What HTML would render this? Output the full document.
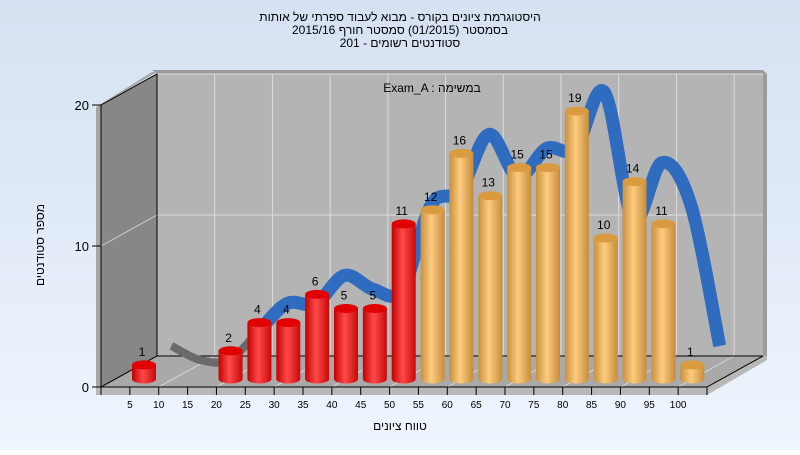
<!DOCTYPE html>
<html><head><meta charset="utf-8">
<style>
html,body{margin:0;padding:0}
body{width:800px;height:450px;overflow:hidden;font-family:"Liberation Sans","DejaVu Sans",sans-serif}
svg text{font-family:"Liberation Sans","DejaVu Sans",sans-serif}
</style></head>
<body>
<svg id="chart" width="800" height="450" viewBox="0 0 800 450" xmlns="http://www.w3.org/2000/svg">
<defs>
<linearGradient id="bg" x1="0" y1="0" x2="0" y2="1"><stop offset="0" stop-color="#d5e1f2"/><stop offset="1" stop-color="#eef5fd"/></linearGradient>
<linearGradient id="red" x1="0" y1="0" x2="1" y2="0"><stop offset="0" stop-color="#c40000"/><stop offset="0.45" stop-color="#ff4a4a"/><stop offset="1" stop-color="#c80808"/></linearGradient>
<linearGradient id="org" x1="0" y1="0" x2="1" y2="0"><stop offset="0" stop-color="#c9903e"/><stop offset="0.45" stop-color="#fdcc80"/><stop offset="1" stop-color="#c68c3a"/></linearGradient>
</defs>
<rect x="0" y="0" width="800" height="450" fill="url(#bg)"/>
<g font-size="12" fill="#000" text-anchor="middle">
<text x="400" y="21">היסטוגרמת ציונים בקורס - מבוא לעבוד ספרתי של אותות</text>
<text x="400" y="34">בסמסטר  (01/2015)  סמסטר חורף 2015/16</text>
<text x="400" y="47">סטודנטים רשומים - 201</text>
</g>
<!-- walls -->
<polygon points="96,107 152,72 157,72 101,105 101,392 96,392" fill="#a6a6a6"/>
<polygon points="152,70 763,70 767,74 767,356 763,356 763,74 157,74" fill="#9c9c9c"/>
<polygon points="101,105 157,74 157,356 101,387" fill="#878787" stroke="#000" stroke-width="1"/>
<rect x="157" y="74" width="606" height="282" fill="#b4b4b4"/>
<polygon points="101,387 157,356 763,356 707,387" fill="#a9a9a9"/>
<polygon points="96,387 707,387 763,356 767,356 767,360 707,395 96,395" fill="#b8b8b8"/>
<g id="grid"></g>
<line x1="101" y1="387" x2="157" y2="356" stroke="#000"/>
<line x1="157" y1="356" x2="763" y2="356" stroke="#000"/>
<line x1="157" y1="74" x2="157" y2="356" stroke="#000"/>
<line x1="101" y1="105" x2="157" y2="74" stroke="#000"/>
<line x1="707" y1="387" x2="763" y2="356" stroke="#000"/>
<g id="ribbon"></g>
<g id="bars"></g>
<g id="axes"></g>
<text x="432" y="92" font-size="12" text-anchor="middle">Exam_A : במשימה</text>
<text x="400" y="430" font-size="12" text-anchor="middle">טווח ציונים</text>
<text x="0" y="0" font-size="12" text-anchor="middle" transform="translate(44,245) rotate(-90)">מספר סטודנטים</text>
</svg>
<script>
const categories = ["0-5","5-10","10-15","15-20","20-25","25-30","30-35","35-40","40-45","45-50","50-55","55-60","60-65","65-70","70-75","75-80","80-85","85-90","90-95","95-100"];
const counts = [1,0,0,2,4,4,6,5,5,11,12,16,13,15,15,19,10,14,11,1];
const xTickLabels = [5,10,15,20,25,30,35,40,45,50,55,60,65,70,75,80,85,90,95,100];
const yTickLabels = [0,10,20];
const passIndex = 10;

const NS = "http://www.w3.org/2000/svg";
const slotW = 606/21, unit = 14.1;
function mk(tag, attrs, parent){const e=document.createElementNS(NS,tag);for(const k in attrs)e.setAttribute(k,attrs[k]);parent.appendChild(e);return e;}
function yFront(v){return 387 - v*unit;}
function yBack(v){return 356 - v*unit;}
function barX(i){return 144 + i*slotW;}
function ribX(i){return 157 + (i+0.5)*slotW;}

const grid=document.getElementById('grid');
for(let k=1;k<=10;k++){
  const bx=157+k*slotW*2;
  if(bx<763){let l=mk('line',{x1:bx,y1:74,x2:bx,y2:356,stroke:'#dcdcdc'},grid);}
  const fx=101+k*slotW*2;
  let f=mk('line',{x1:fx,y1:387,x2:fx+56,y2:356,stroke:'#d8d8d8'},grid);
}
yTickLabels.forEach(v=>{
  if(v===0)return;
  let h=mk('line',{x1:157,y1:yBack(v),x2:763,y2:yBack(v),stroke:'#dcdcdc'},grid);
  let d=mk('line',{x1:101,y1:yFront(v),x2:157,y2:yBack(v),stroke:'#d0d0d0'},grid);
});

// ribbon (catmull-rom spline at back plane)
const rib=document.getElementById('ribbon');
function pathFor(i0,i1){
  const pts=[];for(let i=0;i<counts.length;i++)pts.push([ribX(i),yBack(counts[i])]);
  let d='M'+pts[i0][0]+','+pts[i0][1];
  for(let i=i0;i<i1;i++){
    const p0=pts[Math.max(i-1,0)],p1=pts[i],p2=pts[i+1],p3=pts[Math.min(i+2,pts.length-1)];
    const c1=[p1[0]+(p2[0]-p0[0])/6,p1[1]+(p2[1]-p0[1])/6];
    const c2=[p2[0]-(p3[0]-p1[0])/6,p2[1]-(p3[1]-p1[1])/6];
    d+=' C'+c1[0]+','+c1[1]+' '+c2[0]+','+c2[1]+' '+p2[0]+','+p2[1];
  }
  return d;
}
let g1=mk('path',{d:pathFor(0,4),fill:'none',stroke:'#6a6a6a','stroke-width':8,transform:'translate(0,4)'},rib);

let g2=mk('path',{d:pathFor(3,counts.length-1),fill:'none',stroke:'#2f6cbf','stroke-width':13,'stroke-linecap':'butt',transform:'translate(0,4)'},rib);


// bars
const bars=document.getElementById('bars');
const rw=12, ry=4.5, base=379;
counts.forEach((v,i)=>{
  if(v<=0)return;
  const cx=barX(i), top=base-v*unit;
  const fill=i<passIndex?'url(#red)':'url(#org)';
  const topc=i<passIndex?'#e00000':'#d99a40';
  const g=mk('g',{},bars);
  
  
  mk('path',{d:`M${cx-rw},${top} L${cx-rw},${base} A${rw},${ry} 0 0 0 ${cx+rw},${base} L${cx+rw},${top} Z`,fill:fill},g);
  mk('ellipse',{cx:cx,cy:top,rx:rw,ry:ry,fill:topc},g);
  const t=mk('text',{x:cx-2,y:top-9,'font-size':12,'text-anchor':'middle',fill:'#000'},g);
  
  
  t.textContent=v;
});

// axes
const ax=document.getElementById('axes');
let xl=mk('line',{x1:101,y1:387,x2:707,y2:387,stroke:'#000'},ax);
let yl=mk('line',{x1:101,y1:105,x2:101,y2:387,stroke:'#000'},ax);
for(let k=0;k<=21;k++){
  const x=101+k*slotW;
  let tk=mk('line',{x1:x,y1:387,x2:x,y2:395,stroke:'#000'},ax);
}
xTickLabels.forEach((lab,k)=>{
  const t=mk('text',{x:101+(k+1)*slotW,y:408,'font-size':10,'text-anchor':'middle'},ax);
  t.textContent=lab;
});
yTickLabels.forEach(v=>{
  let tk=mk('line',{x1:92,y1:yFront(v),x2:101,y2:yFront(v),stroke:'#000'},ax);
  const t=mk('text',{x:89,y:yFront(v)+5,'font-size':13,'text-anchor':'end'},ax);
  t.textContent=v;
});
</script>
</body></html>
